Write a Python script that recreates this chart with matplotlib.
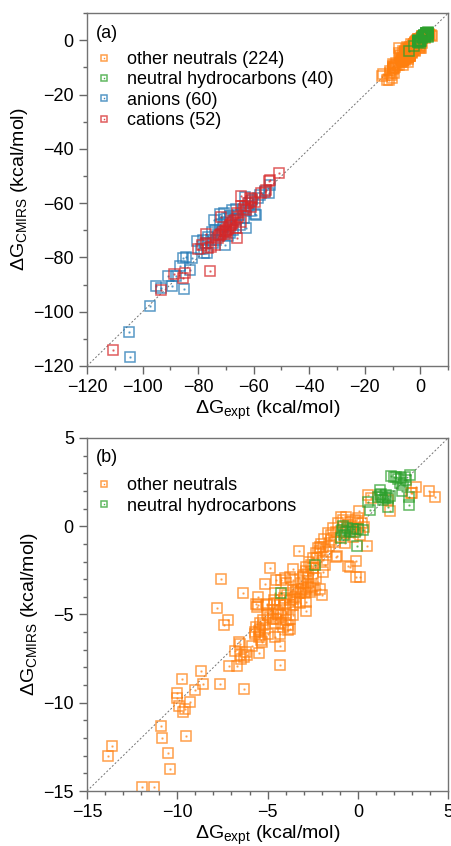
import numpy as np
import matplotlib
matplotlib.use('Agg')
import matplotlib.pyplot as plt
from matplotlib.legend_handler import HandlerTuple

plt.rcParams['font.family'] = ['Liberation Sans', 'DejaVu Sans']
plt.rcParams['mathtext.default'] = 'regular'

# other neutrals (x = expt, y = CMIRS)
oth = [(3.93,1.99),(4.28,1.64),(3.01,1.90),(3.20,2.24),(2.96,1.86),(1.76,0.88),(1.67,1.48),
       (0.56,1.77),(0.74,1.58),(0.06,0.88),(0.51,-1.12),(-0.12,-1.96),(-0.53,-2.24),(0.10,-2.90),
       (-1.19,-1.73),(-0.64,0.54),(-0.82,0.35),(-1.10,0.16),(-1.38,-0.12),(-1.65,-0.41),(-0.45,0.26),
       (-0.18,0.35),(0.01,0.16),(-0.36,-0.03),(-0.64,-0.31),(-1.01,-0.60),(-1.28,-0.88),(-1.60,-1.12),
       (-1.93,-1.16),(-2.02,-1.01),(-2.20,-1.26),(-1.74,-1.45),(-1.47,-0.50),(-0.73,-0.97),(-0.27,-0.60),
       (0.10,-0.50),(0.01,0.44),(-0.91,0.54),(-0.55,0.05),(-0.95,-0.25),(-1.20,-0.35),(-0.40,-0.35),
       (-0.10,-0.15),(-1.50,-0.80),(-1.85,-0.75),(0.25,0.20),(0.35,-0.05),(-3.26,-1.39),(-2.11,-1.39),
       (-2.26,-1.82),(-1.93,-1.92),(-1.84,-2.20),(-2.48,-2.39),(-1.93,-2.58),(-2.76,-2.71),(-2.30,-2.96),
       (-2.48,-2.68),(-2.76,-2.96),(-3.59,-2.43),(-4.84,-2.39),(-3.59,-3.05),(-3.03,-2.86),(-3.13,-3.24),
       (-3.96,-3.24),(-4.27,-3.05),(-5.12,-3.28),(-6.35,-3.81),(-7.59,-2.98),(-5.52,-4.00),(-5.52,-4.47),
       (-4.60,-3.81),(-4.66,-4.19),(-5.06,-4.47),(-7.79,-4.62),(-3.59,-3.62),(-3.31,-3.53),(-3.03,-3.53),
       (-2.76,-3.43),(-2.48,-3.39),(-3.22,-3.81),(-2.94,-3.77),(-2.67,-3.71),(-2.39,-3.62),(-3.50,-4.00),
       (-3.77,-4.19),(-4.05,-4.38),(-3.40,-4.28),(-3.77,-4.57),(-2.89,-4.79),(-1.97,-3.87),(-2.11,-3.53),
       (-3.45,-3.70),(-3.15,-3.65),(-2.85,-3.60),(-2.60,-3.50),(-3.90,-3.90),(-4.10,-4.05),(-3.60,-4.10),
       (-4.30,-4.20),(-4.69,-4.75),(-4.42,-4.85),(-4.23,-5.04),(-3.96,-4.94),(-3.77,-5.23),(-5.06,-4.94),
       (-4.88,-5.13),(-4.51,-5.23),(-5.25,-5.32),(-5.43,-5.51),(-5.62,-5.70),(-5.16,-5.79),(-4.60,-5.51),
       (-4.14,-5.70),(-3.86,-5.89),(-4.33,-6.08),(-4.97,-6.08),(-4.60,-6.27),(-5.71,-5.98),(-5.43,-6.17),
       (-5.62,-4.38),(-5.58,-4.57),(-5.06,-4.42),(-4.64,-4.38),(-4.33,-4.47),(-3.59,-4.47),(-3.22,-4.34),
       (-2.85,-4.28),(-3.59,-5.04),(-3.96,-5.32),(-3.77,-5.80),(-3.86,-5.61),(-4.23,-5.51),(-4.69,-5.23),
       (-4.97,-5.04),(-4.42,-4.95),(-5.25,-5.60),(-5.43,-5.80),(-7.18,-5.32),(-7.42,-5.61),(-6.59,-6.55),
       (-6.55,-6.65),(-6.81,-7.06),(-7.15,-7.93),(-6.70,-7.91),(-5.89,-6.76),(-5.49,-7.16),(-4.31,-6.76),
       (-4.33,-7.88),(-6.32,-9.20),(-6.54,-7.30),(-6.30,-7.40),(-6.15,-7.30),(-6.45,-7.50),(-6.20,-7.15),
       (-5.70,-6.10),(-5.50,-6.30),(-5.35,-6.45),(-5.30,-6.55),(-5.50,-5.95),(-8.71,-8.20),(-8.58,-8.95),
       (-9.03,-9.26),(-7.63,-8.95),(-9.73,-8.63),(-10.02,-9.43),(-10.02,-9.75),(-9.93,-10.20),(-9.69,-10.52),
       (-9.58,-10.33),(-9.30,-9.97),(-10.89,-11.30),(-10.82,-11.98),(-9.52,-11.90),(-10.50,-12.87),
       (-10.39,-13.74),(-13.62,-12.47),(-13.82,-13.04),(-11.98,-14.78),(-11.28,-14.78),(-4.51,-3.05),
       (-4.05,-2.96),(-3.77,-2.87),(-2.9,-2.3),(-2.7,-2.0),(-2.5,-1.8),(-2.3,-1.5),(-2.1,-1.2),(-2.6,-2.2),
       (-2.85,-2.55),(-3.0,-2.75),(-1.16,-1.69),(-0.45,-2.30),(-0.09,-2.87)]
oth_x = [p[0] for p in oth]
oth_y = [p[1] for p in oth]

# neutral hydrocarbons
hc = [(1.85,2.84),(2.13,2.77),(2.40,2.71),(2.59,2.77),(2.87,2.90),(2.31,2.47),(2.50,2.33),(2.46,1.99),
      (2.83,1.67),(2.83,1.22),(1.21,2.05),(1.36,1.65),(1.50,1.62),(1.67,1.58),(1.76,1.70),(1.11,1.64),
      (0.56,1.39),(0.65,0.92),(1.67,1.07),(1.21,1.77),(-0.86,-0.22),(-0.79,-0.50),(-0.82,0.01),
      (-0.91,-0.69),(-0.27,-0.18),(0.01,-0.18),(0.28,-0.22),(-0.03,-1.12),(-2.39,-2.20),(-4.27,-3.81),
      (1.30,1.85),(1.55,1.75),(2.20,2.65),(2.00,2.80),(-0.60,-0.10),(-0.45,-0.25),(-0.70,-0.35),
      (-0.15,-0.30),(1.40,1.50),(2.65,2.60)]
hc_x = [p[0] for p in hc]
hc_y = [p[1] for p in hc]

# anions
an = [(-104.55,-116.6),(-104.8,-107.6),(-97.5,-98.0),(-95.1,-90.6),(-93.2,-91.2),(-89.3,-90.6),
      (-85.1,-91.6),(-91.0,-86.9),(-88.0,-86.7),(-86.5,-83.3),(-83.1,-84.8),(-85.5,-80.1),(-84.2,-79.8),
      (-82.3,-80.1),(-80.4,-74.1),(-78.0,-78.4),(-76.8,-78.4),(-76.4,-72.5),(-74.6,-74.7),(-70.2,-75.3),
      (-74.0,-69.8),(-74.3,-66.3),(-72.2,-63.9),(-70.8,-63.6),(-72.2,-67.9),(-71.0,-68.8),(-68.6,-71.0),
      (-67.4,-69.8),(-68.4,-64.9),(-65.6,-64.2),(-62.9,-69.2),(-69.2,-72.2),(-63.2,-57.7),(-61.4,-63.0),
      (-61.7,-60.0),(-59.6,-63.9),(-59.0,-64.2),(-57.6,-56.9),(-54.5,-56.3),(-54.0,-53.2),(-67.7,-62.7),
      (-66.2,-62.2),(-71.3,-70.4),(-73.5,-73.4),(-75.2,-73.4),(-78.2,-73.4),(-73.0,-71.5),(-70.0,-67.0),
      (-66.5,-66.0),(-64.0,-62.5),(-62.0,-61.0),(-60.5,-59.0),(-58.5,-58.0),(-75.0,-70.5),(-77.5,-74.5),
      (-79.0,-77.0),(-69.5,-65.5),(-65.0,-68.0),(-63.5,-65.5),(-56.0,-55.5)]
an_x = [p[0] for p in an]
an_y = [p[1] for p in an]

# cations
cat = [(-110.5,-114.2),(-93.2,-92.1),(-88.6,-86.0),(-85.4,-87.6),(-84.6,-85.7),(-75.9,-85.0),
       (-79.9,-76.9),(-77.2,-71.2),(-76.4,-76.5),(-75.2,-76.1),(-74.0,-75.6),(-71.7,-65.1),(-72.5,-72.2),
       (-71.6,-71.2),(-70.4,-70.4),(-69.2,-69.5),(-68.0,-67.9),(-67.4,-66.7),(-66.8,-66.1),(-66.2,-69.2),
       (-64.4,-67.1),(-66.0,-72.8),(-64.5,-57.5),(-64.4,-61.2),(-63.2,-60.9),(-62.6,-62.7),(-60.8,-59.3),
       (-60.5,-58.5),(-57.2,-56.3),(-56.0,-56.0),(-55.7,-55.0),(-54.5,-52.0),(-54.0,-51.4),(-50.9,-48.9),
       (-77.0,-74.7),(-71.0,-70.8),(-70.0,-69.8),(-69.0,-68.8),(-68.5,-68.0),(-67.8,-67.2),(-73.0,-72.8),
       (-72.0,-71.8),(-62.0,-60.0),(-61.0,-61.5),(-63.5,-62.0),(-65.5,-65.0),(-66.0,-63.8),(-70.5,-71.5),
       (-78.5,-75.5),(-59.5,-59.5),(-61.5,-58.0),(-69.8,-70.8)]
cat_x = [p[0] for p in cat]
cat_y = [p[1] for p in cat]

names = ['other neutrals', 'neutral hydrocarbons', 'anions', 'cations']
counts = [224, 40, 60, 52]
colors = ['#ff7f0e', '#2ca02c', '#1f77b4', '#d62728']


def draw(ax, x, y, c):
    h1, = ax.plot(x, y, 's', ms=6.5, mfc='none', mec=c, mew=1.1, alpha=0.75)
    h2, = ax.plot(x, y, 's', ms=1.0, mfc=c, mec=c, mew=0.3, alpha=0.75)
    return (h1, h2)


def style(ax, lo, hi, major, minor):
    ax.set_xlim(lo, hi)
    ax.set_ylim(lo, hi)
    ax.plot([lo, hi], [lo, hi], color='0.45', ls=(0, (2, 2)), lw=0.7, zorder=0)
    ax.set_xticks(np.arange(lo, hi + 0.1, major))
    ax.set_yticks(np.arange(lo, hi + 0.1, major))
    ax.set_xticks(np.arange(lo, hi + 0.1, minor), minor=True)
    ax.set_yticks(np.arange(lo, hi + 0.1, minor), minor=True)
    ax.tick_params(which='both', direction='out', labelsize=13, color='0.4', width=1)
    ax.tick_params(which='major', length=6)
    ax.tick_params(which='minor', length=3)
    for s in ax.spines.values():
        s.set_color('0.45')
        s.set_linewidth(1)
    ax.set_xlabel('ΔG$_{expt}$ (kcal/mol)', fontsize=14, labelpad=2)
    ax.set_ylabel('ΔG$_{CMIRS}$ (kcal/mol)', fontsize=14, labelpad=2)


leg_kw = dict(loc='upper left', frameon=False, fontsize=13, markerscale=0.75,
              handlelength=0.8, handletextpad=0.85, labelspacing=0.18, borderpad=0,
              handler_map={tuple: HandlerTuple(ndivide=1)})

fig = plt.figure(figsize=(4.52, 8.46), dpi=100)
ax1 = fig.add_axes([0.1925, 0.5674, 0.799, 0.417])
ax2 = fig.add_axes([0.1925, 0.065, 0.799, 0.4173])

data = [(oth_x, oth_y), (hc_x, hc_y), (an_x, an_y), (cat_x, cat_y)]
hs = []
for (x, y), c in zip(data, colors):
    hs.append(draw(ax1, x, y, c))
style(ax1, -120, 10, 20, 10)
ax1.set_xticks(np.arange(-120, 1, 20))
ax1.set_yticks(np.arange(-120, 1, 20))
ax1.text(0.025, 0.943, '(a)', transform=ax1.transAxes, fontsize=13, va='center')
ax1.legend(hs, [n + ' (%d)' % k for n, k in zip(names, counts)],
           bbox_to_anchor=(0.003, 0.918), **leg_kw)

hs2 = []
for (x, y), c in zip(data[:2], colors[:2]):
    hs2.append(draw(ax2, x, y, c))
style(ax2, -15, 5, 5, 1)
ax2.text(0.025, 0.946, '(b)', transform=ax2.transAxes, fontsize=13, va='center')
ax2.legend(hs2, names[:2], bbox_to_anchor=(0.003, 0.914), **leg_kw)

plt.savefig('out.png', dpi=100)
